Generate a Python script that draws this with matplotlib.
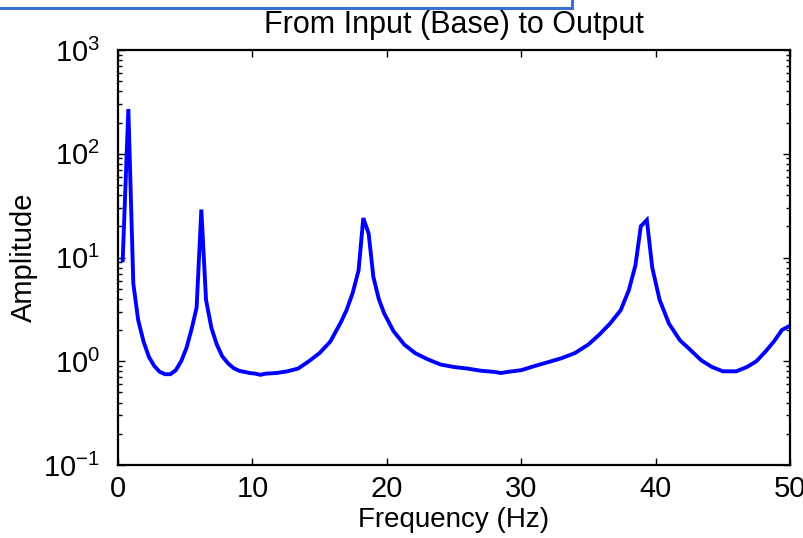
import matplotlib
matplotlib.use("Agg")
import matplotlib.pyplot as plt
from matplotlib.patches import Rectangle
from matplotlib.ticker import LogLocator, FixedLocator, NullFormatter

# Frequency response samples (Hz, amplitude ratio)
freq_hz = [0.35, 0.77, 1.14, 1.5, 1.9, 2.3, 2.7, 3.1, 3.5, 3.9, 4.3, 4.7, 5.1,
           5.5, 5.85, 6.2, 6.55, 6.95, 7.35, 7.75, 8.2, 8.6, 9.0, 9.4, 9.8,
           10.2, 10.6, 11.0, 11.8, 12.6, 13.4, 14.2, 15.0, 15.8, 16.6, 17.0,
           17.45, 17.9, 18.25, 18.65, 19.0, 19.4, 19.8, 20.5, 21.3, 22.1, 23.0,
           24.0, 25.0, 26.0, 27.0, 28.0, 28.5, 29.0, 30.0, 31.0, 32.0, 33.0,
           34.0, 35.0, 35.8, 36.6, 37.4, 38.0, 38.5, 38.9, 39.35, 39.75, 40.3,
           41.0, 41.8, 42.6, 43.4, 44.2, 45.0, 46.0, 46.8, 47.5, 48.2, 48.8,
           49.4, 50.0]
amplitude = [9.4, 270, 5.6, 2.5, 1.55, 1.1, 0.9, 0.79, 0.75, 0.75, 0.82, 1.0,
             1.35, 2.1, 3.3, 29, 3.9, 2.1, 1.45, 1.12, 0.95, 0.86, 0.81, 0.79,
             0.77, 0.76, 0.74, 0.76, 0.77, 0.8, 0.85, 1.0, 1.2, 1.55, 2.4, 3.1,
             4.5, 7.5, 24, 17, 6.5, 4.0, 2.9, 1.95, 1.45, 1.2, 1.05, 0.93, 0.88,
             0.85, 0.81, 0.79, 0.77, 0.79, 0.82, 0.9, 0.98, 1.07, 1.2, 1.45,
             1.8, 2.3, 3.1, 4.8, 8.4, 20, 23, 8.0, 3.9, 2.3, 1.6, 1.28, 1.02,
             0.88, 0.8, 0.8, 0.88, 1.0, 1.25, 1.55, 2.0, 2.2]

x_ticks = [0, 10, 20, 30, 40, 50]
x_tick_labels = ["0", "10", "20", "30", "40", "50"]
y_ticks = [0.1, 1, 10, 100, 1000]
y_tick_labels = [r"$10^{-1}$", r"$10^{0}$", r"$10^{1}$", r"$10^{2}$", r"$10^{3}$"]

family = "Liberation Sans"
plt.rcParams["font.family"] = [family, "DejaVu Sans"]
plt.rcParams["mathtext.fontset"] = "custom"
plt.rcParams["mathtext.rm"] = family
plt.rcParams["mathtext.it"] = family
plt.rcParams["mathtext.bf"] = family

fig = plt.figure(figsize=(8.04, 5.38), dpi=100)
ax = fig.add_axes([118 / 804, 1 - 465 / 538, (790 - 118) / 804, (465 - 50) / 538])

ax.plot(freq_hz, amplitude, color="#0000ff", linewidth=2.8, solid_joinstyle="miter")

ax.set_yscale("log")
ax.set_xlim(0, 50)
ax.set_ylim(0.1, 1000)

ax.xaxis.set_major_locator(FixedLocator(x_ticks))
ax.set_xticklabels(x_tick_labels)
ax.yaxis.set_major_locator(FixedLocator(y_ticks))
ax.set_yticklabels(y_tick_labels)
ax.yaxis.set_minor_locator(LogLocator(base=10, subs=range(2, 10), numticks=20))
ax.yaxis.set_minor_formatter(NullFormatter())

ax.tick_params(which="both", direction="in", top=True, right=True,
               labelsize=21, width=1.0, color="black")
ax.tick_params(which="major", length=5)
ax.tick_params(which="minor", length=3)
ax.tick_params(axis="x", pad=7)
ax.tick_params(axis="y", pad=13)

for s in ax.spines.values():
    s.set_linewidth(1.6)

ax.set_title("From Input (Base) to Output", fontsize=22, pad=12)
ax.set_xlabel("Frequency (Hz)", fontsize=20, labelpad=3)
ax.set_ylabel("Amplitude", fontsize=21, labelpad=4)

# Heading box at the top edge of the slide
fig.patches.append(Rectangle((-0.01, 1 - 8 / 538), 572 / 804 + 0.01, 0.05,
                             transform=fig.transFigure, fill=False,
                             edgecolor="#3a6fd6", linewidth=2.2, clip_on=False))
fig.text(128 / 804, 1 + 13 / 538, "y", color="#3a6fd6", fontsize=40,
         va="baseline", ha="left", family="Liberation Sans")
fig.text(232 / 804, 1 + 13 / 538, "g", color="#3a6fd6", fontsize=40,
         va="baseline", ha="left", family="Liberation Sans")

fig.savefig("out.png", dpi=100)
